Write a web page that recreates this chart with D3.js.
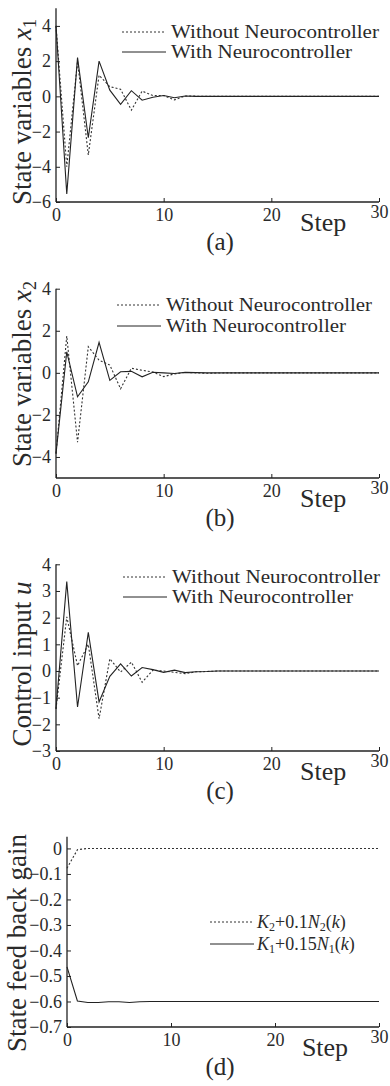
<!DOCTYPE html>
<html>
<head>
<meta charset="utf-8">
<script src="https://cdn.jsdelivr.net/npm/d3@7"></script>
<style>
  html, body { margin: 0; padding: 0; background: #fff; }
  svg { display: block; }
  svg text { font-family: "Liberation Serif", "Times New Roman", serif !important; fill: #2a2a2a; }
</style>
</head>
<body>
<svg id="chart" width="390" height="1086"></svg>
<script>
// ---- data (k = 0..30) ----
const steps = d3.range(0, 31);
const xTicks = [0, 10, 20, 30];

const x1With    = [4.0, -5.55, 2.2, -2.35, 2.0, 0.35, -0.45, 0.32, -0.22, -0.05, 0.05, -0.08, 0.02, 0, 0, 0, 0, 0, 0, 0, 0, 0, 0, 0, 0, 0, 0, 0, 0, 0, 0];
const x1Without = [4.0, -4.0, 2.0, -3.33, 1.2, 0.55, 0.4, -0.78, 0.3, 0.05, 0.05, -0.2, 0.02, 0.01, 0, 0, 0, 0, 0, 0, 0, 0, 0, 0, 0, 0, 0, 0, 0, 0, 0];
const x1Ticks = [-6, -4, -2, 0, 2, 4];

const x2With    = [-3.84, 1.0, -1.14, -0.43, 1.45, -0.36, 0.05, 0.07, -0.19, 0.03, 0, -0.03, 0.02, 0.01, 0, 0, 0, 0, 0, 0, 0, 0, 0, 0, 0, 0, 0, 0, 0, 0, 0];
const x2Without = [-3.84, 1.75, -3.3, 1.24, 0.6, 0.37, -0.76, 0.22, 0.12, 0.04, -0.18, -0.05, 0.02, 0, -0.02, -0.01, 0, 0, 0, 0, 0, 0, 0, 0, 0, 0, 0, 0, 0, 0, 0];
const x2Ticks = [-4, -2, 0, 2, 4];

const uWith    = [-1.42, 3.35, -1.35, 1.45, -1.16, -0.2, 0.27, -0.19, 0.13, 0.05, -0.05, 0.03, -0.06, -0.03, -0.02, 0, 0, 0, 0, 0, 0, 0, 0, 0, 0, 0, 0, 0, 0, 0, 0];
const uWithout = [-1.42, 2.03, 0.2, 1.0, -1.79, 0.46, -0.04, 0.33, -0.42, 0.03, 0.0, -0.05, -0.1, -0.03, -0.02, 0, 0, 0, 0, 0, 0, 0, 0, 0, 0, 0, 0, 0, 0, 0, 0];
const uTicks = [-3, -2, -1, 0, 1, 2, 3, 4];

const gainK2 = [-0.078, -0.005, 0.0, 0, 0, 0, 0, 0, 0, 0, 0, 0, 0, 0, 0, 0, 0, 0, 0, 0, 0, 0, 0, 0, 0, 0, 0, 0, 0, 0, 0];
const gainK1 = [-0.464, -0.598, -0.604, -0.604, -0.601, -0.601, -0.604, -0.601, -0.6, -0.6, -0.6, -0.6, -0.6, -0.6, -0.6, -0.6, -0.6, -0.6, -0.6, -0.6, -0.6, -0.6, -0.6, -0.6, -0.6, -0.6, -0.6, -0.6, -0.6, -0.6, -0.6];
const gainTicks = [-0.7, -0.6, -0.5, -0.4, -0.3, -0.2, -0.1, 0];

const legendNeuro = ["Without Neurocontroller", "With Neurocontroller"];
const legendGain = [["2", "+0.1"], ["1", "+0.15"]];

// ---- layout ----
const svg = d3.select("#chart");
const INK = "#222";
const SERIF = "Liberation Serif, Times New Roman, serif";

const panels = [
  { id: "(a)", left: 56, right: 379, top: 8.3, bottom: 202, domain: [-6, 5], ticks: x1Ticks,
    series: [x1Without, x1With], yLabel: ["State variables ", "x", "1"], legendX: 122, legendY: 32,
    legend: "neuro", labelX: 31, labelY: 112, lenW: [208, 181], gap: 20, fmt: d3.format("d") },
  { id: "(b)", left: 56, right: 379, top: 288.7, bottom: 478, domain: [-5, 4], ticks: x2Ticks,
    series: [x2Without, x2With], yLabel: ["State variables ", "x", "2"], legendX: 117, legendY: 305,
    legend: "neuro", labelX: 31, labelY: 374, lenW: [206, 180], gap: 21, fmt: d3.format("d") },
  { id: "(c)", left: 56, right: 379, top: 564.3, bottom: 751, domain: [-3, 4], ticks: uTicks,
    series: [uWithout, uWith], yLabel: ["Control input ", "u", ""], legendX: 123, legendY: 577,
    legend: "neuro", labelX: 31, labelY: 664, lenW: [208, 181], gap: 20, fmt: d3.format("d") },
  { id: "(d)", left: 67, right: 379, top: 836.7, bottom: 1027, domain: [-0.7, 0.046], ticks: gainTicks,
    series: [gainK2, gainK1], yLabel: ["State feed back gain", "", ""], legendX: 210, legendY: 922,
    legend: "gain", labelX: 26, labelY: 943, lenW: null, gap: 22, fmt: v => (v === 0 ? "0" : d3.format(".1f")(v)) }
];

panels.forEach(p => {
  const g = svg.append("g");
  const x = d3.scaleLinear().domain([0, 30]).range([p.left, p.right]);
  const y = d3.scaleLinear().domain(p.domain).range([p.bottom, p.top]);

  // y axis
  const ya = g.append("g").attr("transform", `translate(${p.left},0)`)
    .call(d3.axisLeft(y).tickValues(p.ticks).tickSize(-4).tickPadding(5).tickFormat(p.fmt));
  ya.attr("font-family", SERIF);
  ya.select(".domain").attr("d", `M0,${y(p.domain[1])}V${p.bottom}`).attr("stroke", INK).attr("stroke-width", 1.3);
  ya.selectAll(".tick line").attr("stroke", INK);
  ya.selectAll(".tick text").attr("font-size", 18).attr("fill", "#2a2a2a");

  // x axis
  const xa = g.append("g").attr("transform", `translate(0,${p.bottom})`)
    .call(d3.axisBottom(x).tickValues(xTicks).tickSize(-4).tickPadding(9).tickFormat(d3.format("d")));
  xa.attr("font-family", SERIF);
  xa.select(".domain").attr("d", `M${p.left},0H${p.right}`).attr("stroke", INK).attr("stroke-width", 1.3);
  xa.selectAll(".tick line").attr("stroke", INK);
  xa.selectAll(".tick text").attr("font-size", 18).attr("fill", "#2a2a2a")
    .attr("dy", d => d === 30 ? "0.4em" : "0.55em");

  // Step label
  g.append("text").attr("x", (x(20) + x(30)) / 2 - 2).attr("y", p.bottom + 29)
    .attr("text-anchor", "middle").attr("font-size", 26).text("Step");
  // panel id
  g.append("text").attr("x", 220).attr("y", p.bottom + 48)
    .attr("text-anchor", "middle").attr("font-size", 25).text(p.id);

  // y label
  const yl = g.append("text").attr("transform", `translate(${p.labelX},${p.labelY}) rotate(-90)`)
    .attr("text-anchor", "middle").attr("font-size", 27);
  yl.append("tspan").text(p.yLabel[0]);
  if (p.yLabel[1]) yl.append("tspan").attr("font-style", "italic").text(p.yLabel[1]);
  if (p.yLabel[2]) yl.append("tspan").attr("font-size", 18).attr("dy", 5).text(p.yLabel[2]);

  // lines
  const line = d3.line().x((d, i) => x(steps[i])).y(d => y(d));
  g.append("path").datum(p.series[0]).attr("d", line)
    .attr("fill", "none").attr("stroke", "#333").attr("stroke-width", 1.1).attr("stroke-dasharray", "2,2");
  g.append("path").datum(p.series[1]).attr("d", line)
    .attr("fill", "none").attr("stroke", INK).attr("stroke-width", 1.1);

  // legend
  const lg = g.append("g").attr("transform", `translate(${p.legendX},${p.legendY})`);
  lg.append("line").attr("x1", 0).attr("x2", 44).attr("y1", 0).attr("y2", 0)
    .attr("stroke", "#333").attr("stroke-width", 1).attr("stroke-dasharray", "2,2");
  lg.append("line").attr("x1", 0).attr("x2", 44).attr("y1", p.gap).attr("y2", p.gap)
    .attr("stroke", INK).attr("stroke-width", 1);
  if (p.legend === "neuro") {
    legendNeuro.forEach((t, i) => {
      lg.append("text").attr("x", 49).attr("y", i * p.gap + 6).attr("font-size", 18)
        .attr("textLength", p.lenW[i]).attr("lengthAdjust", "spacingAndGlyphs").text(t);
    });
  } else {
    legendGain.forEach((s, i) => {
      const t = lg.append("text").attr("x", 47).attr("y", i * p.gap + 6).attr("font-size", 18);
      t.append("tspan").attr("font-style", "italic").text("K");
      t.append("tspan").attr("font-size", 12).attr("dy", 3).text(s[0]);
      t.append("tspan").attr("dy", -3).text(s[1]);
      t.append("tspan").attr("font-style", "italic").text("N");
      t.append("tspan").attr("font-size", 12).attr("dy", 3).text(s[0]);
      t.append("tspan").attr("dy", -3).text("(");
      t.append("tspan").attr("font-style", "italic").text("k");
      t.append("tspan").text(")");
    });
  }
});
</script>
</body>
</html>
